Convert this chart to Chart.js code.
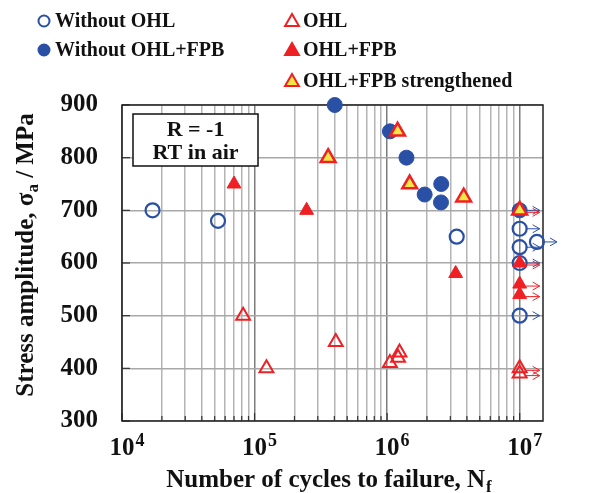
<!DOCTYPE html>
<html>
<head>
<meta charset="utf-8">
<script src="https://cdn.jsdelivr.net/npm/chart.js@4.4.0/dist/chart.umd.min.js"></script>
<style>
  html, body { margin: 0; padding: 0; background: #fff; }
  #wrap { width: 593px; height: 493px; position: relative; }
</style>
</head>
<body>
<div id="wrap"><canvas id="snChart"></canvas></div>
<script>
// values: N = cycles to failure, S = stress amplitude (MPa)
// runout = specimen did not fail (drawn with an arrow)
const woOhlN = [1.7e4, 5.3e4, 3.35e6, 1e7, 1e7, 1e7, 1e7, 1.35e7];
const woOhlS = [700, 680, 650, 665, 630, 600, 500, 640];
const woOhlRunout = [false, false, false, true, true, true, true, true];

const woOhlFpbN = [4.03e5, 1.05e6, 1.4e6, 1.92e6, 2.56e6, 2.55e6, 1e7];
const woOhlFpbS = [900, 850, 800, 730, 750, 715, 700];
const woOhlFpbRunout = [false, false, false, false, false, false, true];

const ohlN = [8.2e4, 1.23e5, 4.1e5, 1.05e6, 1.21e6, 1.24e6, 1e7, 1e7];
const ohlS = [500, 400, 450, 410, 420, 430, 400, 390];
const ohlRunout = [false, false, false, false, false, false, true, true];

const ohlFpbN = [7e4, 2.47e5, 3.29e6, 1e7, 1e7, 1e7];
const ohlFpbS = [750, 700, 580, 600, 560, 540];
const ohlFpbRunout = [false, false, false, true, true, true];

const strongN = [3.59e5, 1.2e6, 1.48e6, 3.78e6, 1e7];
const strongS = [800, 850, 750, 725, 700];
const strongRunout = [false, false, false, false, true];

// axis ticks
const xGridValues = [
  1e4, 2e4, 3e4, 4e4, 5e4, 6e4, 7e4, 8e4, 9e4,
  1e5, 2e5, 3e5, 4e5, 5e5, 6e5, 7e5, 8e5, 9e5,
  1e6, 2e6, 3e6, 4e6, 5e6, 6e6, 7e6, 8e6, 9e6,
  1e7
];
const xDecades = [1e4, 1e5, 1e6, 1e7];
const xDecadeExp = ["4", "5", "6", "7"];
const yTicks = [300, 400, 500, 600, 700, 800, 900];

const note = ["R = -1", "RT in air"];

const BLUE = "#2a50a6";
const RED = "#ee2024";
const YELLOW = "#f3e646";
const FONT = "'Liberation Serif', 'Times New Roman', serif";

function toPoints(xs, ys) {
  return xs.map((x, i) => ({ x: x, y: ys[i] }));
}

function drawMarker(ctx, style, x, y, r, fill, stroke, lw) {
  ctx.beginPath();
  if (style === "circle") {
    ctx.arc(x, y, r, 0, Math.PI * 2);
  } else {
    ctx.moveTo(x, y - r);
    ctx.lineTo(x + r * 0.866, y + r / 2);
    ctx.lineTo(x - r * 0.866, y + r / 2);
    ctx.closePath();
  }
  if (fill) { ctx.fillStyle = fill; ctx.fill(); }
  ctx.lineWidth = lw;
  ctx.strokeStyle = stroke;
  ctx.stroke();
}

const legendSlots = [
  { x: 44, y: 21 }, { x: 44, y: 50 },
  { x: 292, y: 21 }, { x: 292, y: 50 }, { x: 292, y: 81 }
];

const decorations = {
  id: "decorations",
  beforeDatasetsDraw(chart) {
    const { ctx, chartArea: a, scales } = chart;
    ctx.save();
    // small inward tick marks
    ctx.strokeStyle = "#333";
    ctx.lineWidth = 1.2;
    yTicks.forEach(v => {
      const py = scales.y.getPixelForValue(v);
      ctx.beginPath(); ctx.moveTo(a.left, py); ctx.lineTo(a.left + 8, py); ctx.stroke();
    });
    xGridValues.forEach(v => {
      const px = scales.x.getPixelForValue(v);
      const len = xDecades.includes(v) ? 8 : 5;
      ctx.beginPath(); ctx.moveTo(px, a.bottom); ctx.lineTo(px, a.bottom - len); ctx.stroke();
    });
    // plot frame
    ctx.strokeStyle = "#222";
    ctx.lineWidth = 1.5;
    ctx.strokeRect(a.left, a.top, a.right - a.left, a.bottom - a.top);

    // condition box
    ctx.fillStyle = "#fff";
    ctx.fillRect(133, 114, 125, 52);
    ctx.strokeStyle = "#111";
    ctx.lineWidth = 1.5;
    ctx.strokeRect(133, 114, 125, 52);
    ctx.fillStyle = "#111";
    ctx.font = "bold 22px " + FONT;
    ctx.textAlign = "center";
    ctx.textBaseline = "middle";
    ctx.fillText(note[0], 195.5, 130);
    ctx.fillText(note[1], 195.5, 153);
    ctx.restore();
  },
  afterDatasetsDraw(chart) {
    const { ctx } = chart;
    ctx.save();
    ctx.lineWidth = 1;
    chart.data.datasets.forEach((ds, di) => {
      const meta = chart.getDatasetMeta(di);
      ds.runout.forEach((r, i) => {
        if (!r) return;
        const el = meta.data[i];
        const x = el.x, y = el.y + (ds.pointStyle === "triangle" ? 2 : 0);
        ctx.strokeStyle = ds.borderColor;
        ctx.beginPath();
        ctx.moveTo(x + 6, y); ctx.lineTo(x + 20, y);
        ctx.moveTo(x + 13, y - 4); ctx.lineTo(x + 20, y); ctx.lineTo(x + 13, y + 4);
        ctx.stroke();
      });
    });
    ctx.restore();
  },
  afterDraw(chart) {
    const { ctx, chartArea: a, scales } = chart;
    ctx.save();
    ctx.fillStyle = "#111";

    // legend
    ctx.textAlign = "left";
    ctx.textBaseline = "middle";
    ctx.font = "bold 20px " + FONT;
    chart.data.datasets.forEach((ds, i) => {
      const s = legendSlots[i];
      const r = ds.pointStyle === "circle" ? 5.5 : 8;
      drawMarker(ctx, ds.pointStyle, s.x, s.y + (ds.pointStyle === "circle" ? 0 : 1), r,
        ds.backgroundColor === "transparent" ? null : ds.backgroundColor, ds.borderColor, 2);
      ctx.fillStyle = "#111";
      ctx.fillText(ds.label, s.x + 11, s.y + 1);
    });

    // x tick labels 10^n
    ctx.textBaseline = "alphabetic";
    xDecades.forEach((v, i) => {
      const px = scales.x.getPixelForValue(v);
      ctx.font = "bold 25px " + FONT;
      const w = ctx.measureText("10").width;
      ctx.fillText("10", px - w / 2, 455);
      ctx.font = "bold 18px " + FONT;
      ctx.fillText(xDecadeExp[i], px + w / 2 + 1, 446);
    });

    // x title with subscript
    const xMain = "Number of cycles to failure, N";
    ctx.font = "bold 25px " + FONT;
    const wMain = ctx.measureText(xMain).width;
    ctx.font = "bold 17px " + FONT;
    const wSub = ctx.measureText("f").width;
    let sx = (a.left + a.right) / 2 - 4 - (wMain + wSub) / 2;
    ctx.font = "bold 25px " + FONT;
    ctx.fillText(xMain, sx, 487);
    ctx.font = "bold 17px " + FONT;
    ctx.fillText("f", sx + wMain + 1, 492);

    // y title, rotated, with subscript
    const yA = "Stress amplitude, \u03c3";
    const yB = " / MPa";
    ctx.font = "bold 25px " + FONT;
    const wA = ctx.measureText(yA).width;
    const wB = ctx.measureText(yB).width;
    ctx.font = "bold 17px " + FONT;
    const wa = ctx.measureText("a").width;
    const total = wA + wa + wB;
    ctx.translate(33, (a.top + a.bottom) / 2 - 8);
    ctx.rotate(-Math.PI / 2);
    let tx = -total / 2;
    ctx.font = "bold 25px " + FONT;
    ctx.fillText(yA, tx, 0);
    ctx.font = "bold 17px " + FONT;
    ctx.fillText("a", tx + wA, 5);
    ctx.font = "bold 25px " + FONT;
    ctx.fillText(yB, tx + wA + wa, 0);
    ctx.restore();
  }
};

new Chart(document.getElementById("snChart"), {
  type: "scatter",
  data: {
    datasets: [
      {
        label: "Without OHL",
        data: toPoints(woOhlN, woOhlS),
        runout: woOhlRunout,
        pointStyle: "circle",
        pointRadius: 7,
        borderWidth: 2.2,
        borderColor: BLUE,
        backgroundColor: "transparent",
        order: 3
      },
      {
        label: "Without OHL+FPB",
        data: toPoints(woOhlFpbN, woOhlFpbS),
        runout: woOhlFpbRunout,
        pointStyle: "circle",
        pointRadius: 7.5,
        borderWidth: 1,
        borderColor: BLUE,
        backgroundColor: BLUE,
        order: 4
      },
      {
        label: "OHL",
        data: toPoints(ohlN, ohlS),
        runout: ohlRunout,
        pointStyle: "triangle",
        pointRadius: 8,
        borderWidth: 2,
        borderColor: RED,
        backgroundColor: "transparent",
        order: 2
      },
      {
        label: "OHL+FPB",
        data: toPoints(ohlFpbN, ohlFpbS),
        runout: ohlFpbRunout,
        pointStyle: "triangle",
        pointRadius: 8,
        borderWidth: 1,
        borderColor: RED,
        backgroundColor: RED,
        order: 1
      },
      {
        label: "OHL+FPB strengthened",
        data: toPoints(strongN, strongS),
        runout: strongRunout,
        pointStyle: "triangle",
        pointRadius: 8.5,
        borderWidth: 2.5,
        borderColor: RED,
        backgroundColor: YELLOW,
        order: 0
      }
    ]
  },
  options: {
    responsive: true,
    maintainAspectRatio: false,
    animation: false,
    events: [],
    clip: false,
    layout: { padding: { left: 36.5, right: 50, top: 105, bottom: 72 } },
    plugins: {
      legend: { display: false },
      tooltip: { enabled: false }
    },
    scales: {
      x: {
        type: "logarithmic",
        min: 1e4,
        max: 1.5e7,
        afterBuildTicks: scale => {
          scale.ticks = xGridValues.map(v => ({ value: v }));
        },
        ticks: { display: false },
        grid: {
          color: ctx => xDecades.includes(ctx.tick && ctx.tick.value) ? "#7c7c7c" : "#b4b4b4",
          lineWidth: 1.5,
          drawTicks: false
        },
        border: { display: false }
      },
      y: {
        type: "linear",
        min: 300,
        max: 900,
        afterBuildTicks: scale => {
          scale.ticks = yTicks.map(v => ({ value: v }));
        },
        ticks: {
          color: "#111",
          padding: 24,
          font: { family: FONT, size: 25, weight: "bold" }
        },
        grid: { color: "#a8a8a8", lineWidth: 1.5, drawTicks: false },
        border: { display: false }
      }
    }
  },
  plugins: [decorations]
});
</script>
</body>
</html>
